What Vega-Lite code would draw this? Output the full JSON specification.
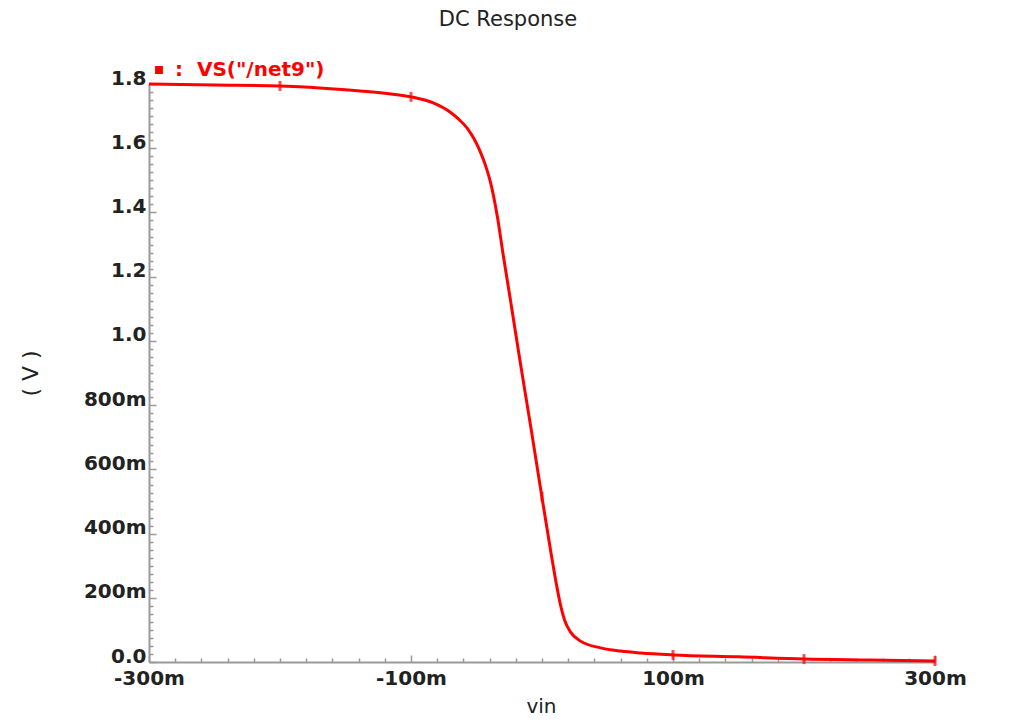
{
  "$schema": "https://vega.github.io/schema/vega-lite/v6.json",
  "autosize": "none",
  "width": 786,
  "height": 578,
  "padding": {"left": 149, "top": 84, "right": 74, "bottom": 58},
  "background": "white",
  "title": {"text": "DC Response", "font": "DejaVu Sans", "fontSize": 21, "fontWeight": "normal", "color": "#222222", "anchor": "middle", "dx": -34, "offset": 30},
  "config": {"view": {"stroke": null}},
  "datasets": {
    "curve": [
      {"vin": -0.3, "v": 1.8, "series": "VS(\"/net9\")"},
      {"vin": -0.25, "v": 1.797, "series": "VS(\"/net9\")"},
      {"vin": -0.2, "v": 1.794, "series": "VS(\"/net9\")"},
      {"vin": -0.15, "v": 1.782, "series": "VS(\"/net9\")"},
      {"vin": -0.12, "v": 1.771, "series": "VS(\"/net9\")"},
      {"vin": -0.1, "v": 1.76, "series": "VS(\"/net9\")"},
      {"vin": -0.083, "v": 1.741, "series": "VS(\"/net9\")"},
      {"vin": -0.07, "v": 1.712, "series": "VS(\"/net9\")"},
      {"vin": -0.064, "v": 1.692, "series": "VS(\"/net9\")"},
      {"vin": -0.057, "v": 1.662, "series": "VS(\"/net9\")"},
      {"vin": -0.052, "v": 1.63, "series": "VS(\"/net9\")"},
      {"vin": -0.047, "v": 1.588, "series": "VS(\"/net9\")"},
      {"vin": -0.043, "v": 1.545, "series": "VS(\"/net9\")"},
      {"vin": -0.0394, "v": 1.495, "series": "VS(\"/net9\")"},
      {"vin": -0.034, "v": 1.385, "series": "VS(\"/net9\")"},
      {"vin": -0.0294, "v": 1.262, "series": "VS(\"/net9\")"},
      {"vin": -0.0241, "v": 1.127, "series": "VS(\"/net9\")"},
      {"vin": -0.0164, "v": 0.928, "series": "VS(\"/net9\")"},
      {"vin": -0.0088, "v": 0.738, "series": "VS(\"/net9\")"},
      {"vin": -0.0011, "v": 0.54, "series": "VS(\"/net9\")"},
      {"vin": 0.0065, "v": 0.349, "series": "VS(\"/net9\")"},
      {"vin": 0.0111, "v": 0.24, "series": "VS(\"/net9\")"},
      {"vin": 0.0141, "v": 0.178, "series": "VS(\"/net9\")"},
      {"vin": 0.0172, "v": 0.131, "series": "VS(\"/net9\")"},
      {"vin": 0.0218, "v": 0.093, "series": "VS(\"/net9\")"},
      {"vin": 0.0294, "v": 0.065, "series": "VS(\"/net9\")"},
      {"vin": 0.0447, "v": 0.044, "series": "VS(\"/net9\")"},
      {"vin": 0.06, "v": 0.034, "series": "VS(\"/net9\")"},
      {"vin": 0.0753, "v": 0.028, "series": "VS(\"/net9\")"},
      {"vin": 0.1, "v": 0.022, "series": "VS(\"/net9\")"},
      {"vin": 0.15, "v": 0.016, "series": "VS(\"/net9\")"},
      {"vin": 0.2, "v": 0.009, "series": "VS(\"/net9\")"},
      {"vin": 0.25, "v": 0.006, "series": "VS(\"/net9\")"},
      {"vin": 0.3, "v": 0.003, "series": "VS(\"/net9\")"}
    ],
    "markers": [
      {"vin": -0.2, "v": 1.794},
      {"vin": -0.1, "v": 1.76},
      {"vin": 0.0, "v": 0.515},
      {"vin": 0.1, "v": 0.022},
      {"vin": 0.2, "v": 0.009},
      {"vin": 0.3, "v": 0.003}
    ]
  },
  "encoding": {
    "x": {
      "field": "vin", "type": "quantitative",
      "scale": {"domain": [-0.3, 0.3], "nice": false, "zero": false},
      "axis": {
        "title": "vin", "titleFont": "DejaVu Sans", "titleFontSize": 20, "titleFontWeight": "normal", "titleColor": "#222222",
        "titleX": 392, "titleY": 44, "titleBaseline": "middle", "titleAlign": "center",
        "values": [-0.3,-0.28,-0.26,-0.24,-0.22,-0.2,-0.18,-0.16,-0.14,-0.12,-0.1,-0.08,-0.06,-0.04,-0.02,0,0.02,0.04,0.06,0.08,0.1,0.12,0.14,0.16,0.18,0.2,0.22,0.24,0.26,0.28,0.3],
        "labelExpr": "abs((datum.value+0.3)*5 - round((datum.value+0.3)*5)) < 1e-6 ? round(datum.value*1000) + 'm' : ''",
        "labelFont": "DejaVu Sans", "labelFontSize": 20, "labelFontWeight": "bold", "labelColor": "#222222",
        "labelOverlap": false, "labelBound": false, "labelFlush": false,
        "labelPadding": 13, "labelBaseline": "top",
        "domainColor": "#999999", "domainWidth": 2,
        "tickColor": "#999999", "tickWidth": 1.5,
        "tickSize": {"condition": {"test": "abs((datum.value+0.3)*5 - round((datum.value+0.3)*5)) < 1e-6", "value": -7}, "value": -4},
        "grid": false
      }
    },
    "y": {
      "field": "v", "type": "quantitative",
      "scale": {"domain": [0, 1.8], "nice": false, "zero": false},
      "axis": {
        "title": "( V )", "titleFont": "DejaVu Sans", "titleFontSize": 22, "titleFontWeight": "normal", "titleColor": "#222222",
        "titleX": -119, "titleY": 289, "titleAngle": -90, "titleBaseline": "middle", "titleAlign": "center",
        "values": [0,0.025,0.05,0.075,0.1,0.125,0.15,0.175,0.2,0.225,0.25,0.275,0.3,0.325,0.35,0.375,0.4,0.425,0.45,0.475,0.5,0.525,0.55,0.575,0.6,0.625,0.65,0.675,0.7,0.725,0.75,0.775,0.8,0.825,0.85,0.875,0.9,0.925,0.95,0.975,1,1.025,1.05,1.075,1.1,1.125,1.15,1.175,1.2,1.225,1.25,1.275,1.3,1.325,1.35,1.375,1.4,1.425,1.45,1.475,1.5,1.525,1.55,1.575,1.6,1.625,1.65,1.675,1.7,1.725,1.75,1.775,1.8],
        "labelExpr": "abs(datum.value*5 - round(datum.value*5)) < 1e-6 ? ((datum.value > 0.999 || datum.value < 1e-9) ? format(datum.value, '.1f') : round(datum.value*1000) + 'm') : ''",
        "labelFont": "DejaVu Sans", "labelFontSize": 20, "labelFontWeight": "bold", "labelColor": "#222222",
        "labelOverlap": false, "labelBound": false, "labelFlush": false,
        "labelPadding": 10, "labelBaseline": "middle", "labelOffset": -6,
        "domainColor": "#999999", "domainWidth": 2,
        "tickColor": "#999999", "tickWidth": 1.5,
        "tickSize": {"condition": {"test": "abs(datum.value*5 - round(datum.value*5)) < 1e-6", "value": -7}, "value": -4},
        "grid": false
      }
    }
  },
  "layer": [
    {
      "data": {"name": "curve"},
      "mark": {"type": "line", "strokeWidth": 3, "interpolate": "monotone", "clip": false},
      "encoding": {
        "color": {
          "field": "series", "type": "nominal",
          "scale": {"range": ["#ff0000"]},
          "legend": {
            "title": null, "orient": "none", "legendX": 0, "legendY": -24,
            "symbolType": "square", "symbolSize": 40, "symbolFillColor": "#ff0000", "symbolStrokeColor": "#ff0000",
            "labelExpr": "':\u00a0\u00a0' + datum.label",
            "labelFont": "DejaVu Sans", "labelFontSize": 20, "labelFontWeight": "bold", "labelColor": "#ff0000",
            "labelOffset": 6, "labelLimit": 400
          }
        }
      }
    },
    {
      "data": {"name": "markers"},
      "mark": {"type": "tick", "orient": "vertical", "size": 10, "thickness": 3, "color": "#ff0000", "clip": false}
    }
  ]
}
